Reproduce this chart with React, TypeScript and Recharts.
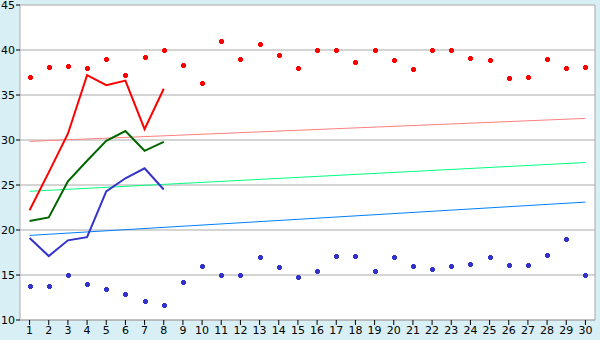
import React from 'react';
import { ComposedChart, Line, XAxis, YAxis, CartesianGrid } from 'recharts';

const days = Array.from({ length: 30 }, (_, i) => i + 1);
const maxTemps = [37, 38.1, 38.2, 38, 39, 37.2, 39.2, 40, 38.3, 36.3, 41, 39, 40.7, 39.5, 38, 40, 40, 38.7, 40, 38.85, 37.85, 40, 40, 39.1, 38.85, 36.85, 37, 39, 38, 38.1];
const minTemps = [13.75, 13.75, 15, 14, 13.4, 12.85, 12.1, 11.65, 14.2, 16, 15, 15, 17, 15.85, 14.75, 15.5, 17.1, 17.1, 15.5, 17, 16, 15.65, 16, 16.2, 17, 16.1, 16.1, 17.2, 19, 15];
const redLine = [22.2, 26.4, 30.7, 37.2, 36.1, 36.6, 31.2, 35.7];
const greenLine = [21, 21.4, 25.4, 27.7, 29.9, 31, 28.8, 29.8];
const blueLine = [19.1, 17.1, 18.85, 19.2, 24.3, 25.75, 26.85, 24.5];
// trend lines: [start at day 1, end at day 30]
const redTrend = [29.85, 32.4];
const greenTrend = [24.3, 27.5];
const blueTrend = [19.4, 23.1];
const yTicks = [10, 15, 20, 25, 30, 35, 40, 45];

const data = days.map((d, i) => ({
  day: d,
  max: maxTemps[i],
  min: minTemps[i],
  red: i < redLine.length ? redLine[i] : null,
  green: i < greenLine.length ? greenLine[i] : null,
  blue: i < blueLine.length ? blueLine[i] : null,
  rt: i === 0 ? redTrend[0] : i === days.length - 1 ? redTrend[1] : null,
  gt: i === 0 ? greenTrend[0] : i === days.length - 1 ? greenTrend[1] : null,
  bt: i === 0 ? blueTrend[0] : i === days.length - 1 ? blueTrend[1] : null,
}));

const makeCross = (color: string) => (props: any) => {
  const { cx, cy, index } = props;
  if (cx == null || cy == null) return <g key={index} />;
  const x = Math.round(cx);
  const y = Math.round(cy);
  return (
    <g key={index}>
      <rect x={x - 2.5} y={y - 1.5} width={5} height={3} fill={color} shapeRendering="crispEdges" />
      <rect x={x - 1.5} y={y - 2.5} width={3} height={5} fill={color} shapeRendering="crispEdges" />
    </g>
  );
};

export default function App() {
  return (
    <div style={{ position: 'absolute', left: 0, top: 0, width: 600, height: 340, background: '#d9eff6' }}>
      <ComposedChart width={600} height={340} data={data} margin={{ top: 5, right: 0, left: 0, bottom: 0 }}>
        <CartesianGrid vertical={false} stroke="#aaaaaa" fill="#ffffff" horizontalValues={yTicks} />
        <XAxis
          dataKey="day"
          height={20}
          interval={0}
          padding={{ left: 9.58, right: 9.58 }}
          tickSize={5}
          tickMargin={1}
          axisLine={{ stroke: '#aaaaaa' }}
          tickLine={{ stroke: '#000000' }}
          tick={{ fill: '#000000', fontSize: 11, fontFamily: 'DejaVu Sans' }}
        />
        <YAxis
          domain={[10, 45]}
          ticks={yTicks}
          width={20}
          interval={0}
          tickSize={4}
          tickMargin={1}
          axisLine={{ stroke: '#aaaaaa' }}
          tickLine={{ stroke: '#000000' }}
          tick={{ fill: '#000000', fontSize: 11, fontFamily: 'DejaVu Sans' }}
        />
        <YAxis
          yAxisId="right"
          orientation="right"
          width={5}
          domain={[10, 45]}
          tick={false}
          tickLine={false}
          axisLine={{ stroke: '#aaaaaa' }}
        />
        <Line dataKey="rt" stroke="#ff8080" strokeWidth={1} dot={false} connectNulls isAnimationActive={false} />
        <Line dataKey="gt" stroke="#00ff80" strokeWidth={1} dot={false} connectNulls isAnimationActive={false} />
        <Line dataKey="bt" stroke="#0080ff" strokeWidth={1} dot={false} connectNulls isAnimationActive={false} />
        <Line dataKey="red" stroke="#ff0000" strokeWidth={2} dot={false} isAnimationActive={false} strokeLinejoin="miter" />
        <Line dataKey="green" stroke="#006600" strokeWidth={2} dot={false} isAnimationActive={false} strokeLinejoin="miter" />
        <Line dataKey="blue" stroke="#3333cc" strokeWidth={2} dot={false} isAnimationActive={false} strokeLinejoin="miter" />
        <Line dataKey="max" stroke="none" dot={makeCross('#ff0000')} activeDot={false} isAnimationActive={false} />
        <Line dataKey="min" stroke="none" dot={makeCross('#3333cc')} activeDot={false} isAnimationActive={false} />
      </ComposedChart>
    </div>
  );
}
